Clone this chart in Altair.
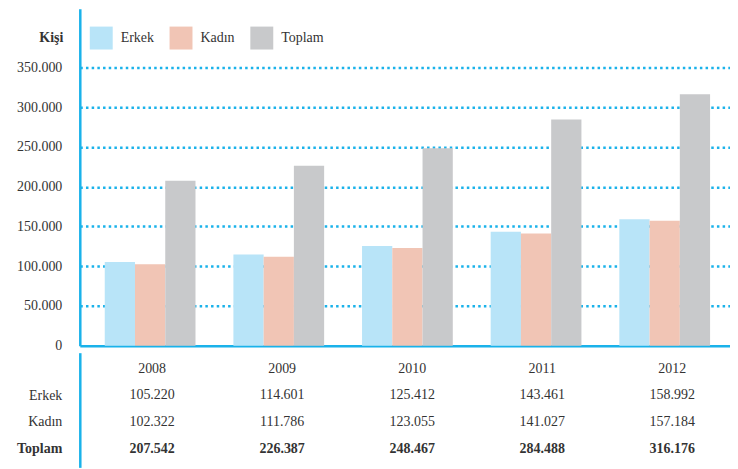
import altair as alt
import pandas as pd

years = ["2008", "2009", "2010", "2011", "2012"]
erkek = [105220, 114601, 125412, 143461, 158992]
kadin = [102322, 111786, 123055, 141027, 157184]
toplam = [207542, 226387, 248467, 284488, 316176]
series = ["Erkek", "Kadın", "Toplam"]
colors = ["#b8e4f8", "#f1c5b5", "#c8c9cb"]
y_ticks = [0, 50000, 100000, 150000, 200000, 250000, 300000, 350000]
rows = ["Yıl", "Erkek", "Kadın", "Toplam"]

BLUE = "#1ab2ea"
TXT = "#333333"
FONT = "Liberation Serif, serif"
W = 652


def tr(v):
    return f"{v:,}".replace(",", ".")


bar_records = []
for i, yr in enumerate(years):
    for s, vals in zip(series, [erkek, kadin, toplam]):
        bar_records.append({"Yıl": yr, "Seri": s, "Değer": vals[i]})
bars_df = pd.DataFrame(bar_records)

tab_records = []
for i, yr in enumerate(years):
    tab_records.append({"Yıl": yr, "Satır": "Yıl", "Metin": yr})
    for s, vals in zip(series, [erkek, kadin, toplam]):
        tab_records.append({"Yıl": yr, "Satır": s, "Metin": tr(vals[i])})
tab_df = pd.DataFrame(tab_records)

x_scale = alt.Scale(domain=years, paddingInner=0.2946, paddingOuter=0.1744, align=0.556)

bars = alt.Chart(bars_df).mark_bar().encode(
    x=alt.X("Yıl:N", scale=x_scale,
            axis=alt.Axis(labels=False, ticks=False, title=None, domainColor=BLUE,
                          domainWidth=2.5, minExtent=0, maxExtent=0, grid=False)),
    xOffset=alt.XOffset("Seri:N", sort=series,
                        scale=alt.Scale(domain=series, paddingInner=0, paddingOuter=0)),
    y=alt.Y("Değer:Q", scale=alt.Scale(domain=[0, 424000], nice=False),
            axis=alt.Axis(values=y_ticks,
                          labelExpr="replace(format(datum.value, ','), ',', '.')",
                          title="Kişi", titleX=-17, titleY=29, titleAngle=0,
                          titleAlign="right", titleBaseline="middle",
                          titleFontWeight="bold", titleFont=FONT, titleFontSize=14,
                          titleColor=TXT,
                          ticks=False, labelPadding=18, labelFont=FONT, labelFontSize=14,
                          labelColor=TXT,
                          domainColor=BLUE, domainWidth=2.5,
                          grid=True, gridColor=BLUE, gridDash=[2.5, 3.2], gridWidth=2.5,
                          gridOpacity=alt.condition("datum.value == 0", alt.value(0), alt.value(1)),
                          minExtent=72, maxExtent=72)),
    color=alt.Color("Seri:N", scale=alt.Scale(domain=series, range=colors),
                    legend=alt.Legend(title=None, orient="none", legendX=10, legendY=18,
                                      direction="horizontal", symbolType="square",
                                      symbolSize=529, symbolStrokeWidth=0,
                                      labelFont=FONT, labelFontSize=14, labelColor=TXT,
                                      labelOffset=8, columnPadding=15, padding=0)),
).properties(width=W, height=338)

y_tab = alt.Y("Satır:N", sort=rows,
              scale=alt.Scale(type="point", domain=rows, padding=0.653, align=0.458),
              axis=alt.Axis(title=None, ticks=False, labelPadding=18, labelFont=FONT,
                            labelFontSize=14, labelColor=TXT,
                            labelExpr="datum.value == 'Yıl' ? '' : datum.value",
                            labelFontWeight=alt.condition("datum.value == 'Toplam'",
                                                          alt.value("bold"), alt.value("normal")),
                            domainColor=BLUE, domainWidth=2.5, grid=False,
                            minExtent=72, maxExtent=72))

base_tab = alt.Chart(tab_df).encode(
    x=alt.X("Yıl:N", scale=x_scale, axis=None),
    y=y_tab,
    text="Metin:N",
)
normal = base_tab.transform_filter("datum['Satır'] != 'Toplam'").mark_text(
    font=FONT, fontSize=14, color=TXT)
bold = base_tab.transform_filter("datum['Satır'] == 'Toplam'").mark_text(
    font=FONT, fontSize=14, color=TXT, fontWeight="bold")
table = alt.layer(normal, bold).properties(width=W, height=115)

chart = alt.vconcat(bars, table, spacing=0).resolve_scale(
    color="independent").resolve_legend(color="independent").properties(
    padding=0).configure(font=FONT).configure_view(stroke=None).configure_axis(
    labelFont=FONT, titleFont=FONT).configure_legend(labelFont=FONT)

chart.save("out.html", embed_options={"renderer": "svg", "actions": False})
